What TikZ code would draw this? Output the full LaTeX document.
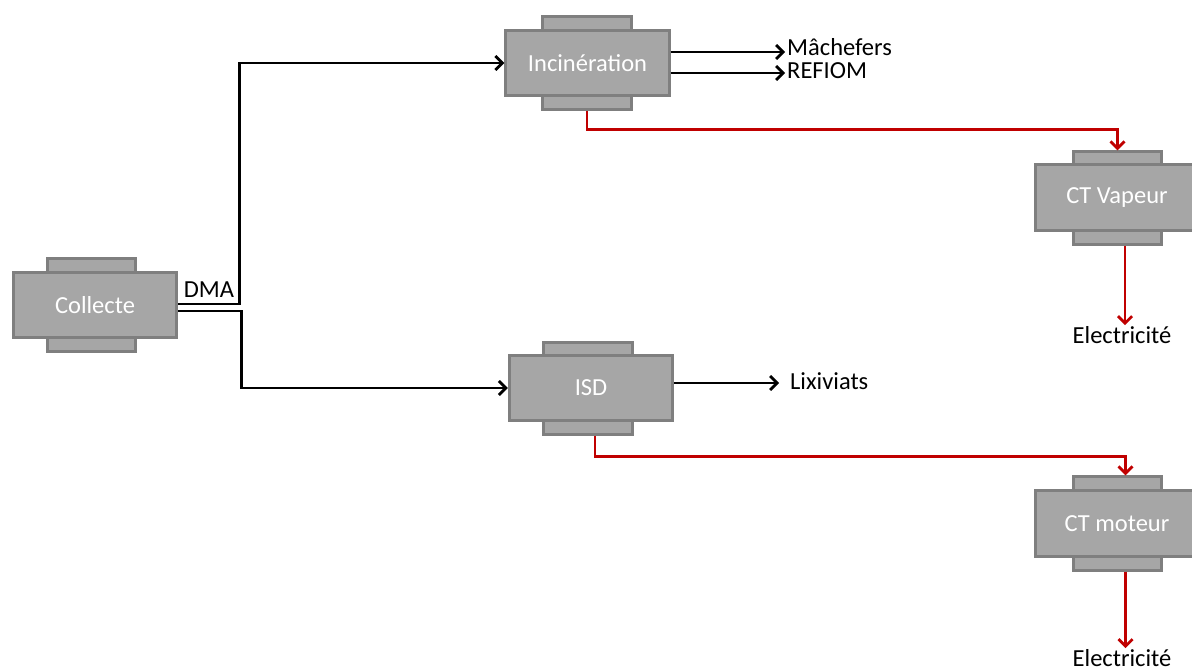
\documentclass[tikz,border=0pt]{standalone}
\usepackage{fontspec}
\setmainfont{Carlito}
\usetikzlibrary{arrows.meta}
\definecolor{boxfill}{HTML}{A6A6A6}
\definecolor{boxdraw}{HTML}{7F7F7F}
\definecolor{flowred}{HTML}{C00000}
\begin{document}
\begin{tikzpicture}[x=1pt,y=-1pt,
  mainbox/.style={draw=boxdraw, fill=boxfill, line width=2.8pt, minimum width=163.5pt, minimum height=65.5pt, inner sep=0pt, text=white, font=\fontsize{24.5}{27}\selectfont},
  tabbox/.style={draw=boxdraw, fill=boxfill, line width=2.8pt, minimum width=88.5pt, minimum height=30pt, inner sep=0pt},
  lbl/.style={inner sep=1pt, text=black, font=\fontsize{24.5}{27}\selectfont},
  flow/.style={line width=2.8pt, draw=black, -{Straight Barb[length=7pt,width=14pt]}},
  redflow/.style={line width=2.8pt, draw=flowred, -{Straight Barb[length=7pt,width=14pt]}}
]
\useasboundingbox (0,0) rectangle (1192,669);
\fill[white] (0,0) rectangle (1192,669);

% Collecte
\node[tabbox, anchor=north] (colT) at (91.5,257.4) {};
\node[tabbox, anchor=south] (colB) at (91.5,352.6) {};
\node[mainbox] (col) at (95,305) {Collecte};

% Incineration
\node[tabbox, anchor=north] (incT) at (587,15.4) {};
\node[tabbox, anchor=south] (incB) at (587,110.6) {};
\node[mainbox] (inc) at (587.5,63) {Incinération};

% ISD
\node[tabbox, anchor=north] (isdT) at (588,341.4) {};
\node[tabbox, anchor=south] (isdB) at (588,435.6) {};
\node[mainbox] (isd) at (591,388) {ISD};

% CT Vapeur
\node[tabbox, anchor=north] (ctvT) at (1117.5,150.4) {};
\node[tabbox, anchor=south] (ctvB) at (1117.5,245.6) {};
\node[mainbox] (ctv) at (1117,197.5) {CT Vapeur};

% CT moteur
\node[tabbox, anchor=north] (ctmT) at (1117.5,475.4) {};
\node[tabbox, anchor=south] (ctmB) at (1117.5,571.6) {};
\node[mainbox] (ctm) at (1117,523.5) {CT moteur};

% Labels
\node[lbl] (dma) at (209,290) {DMA};
\node[lbl, anchor=west] (mach) at (786,47) {Mâchefers};
\node[lbl, anchor=west] (refiom) at (786,71) {REFIOM};
\node[lbl, anchor=west] (lix) at (789,381) {Lixiviats};
\node[lbl] (elec1) at (1122,335) {Electricité};
\node[lbl] (elec2) at (1122,658) {Electricité};

% arrow end points beside the labels
\coordinate (machIn) at (785,52);
\coordinate (refIn) at (785,73);
\coordinate (lixIn) at (779,383);

% Black flows
\draw[flow] ([yshift=1pt]col.east) -- ++(61,0) |- (inc.west);
\draw[flow] ([yshift=-6pt]col.east) -- ++(63,0) |- (isd.west);
\draw[flow] (inc.east |- machIn) -- (machIn);
\draw[flow] (inc.east |- refIn) -- (refIn);
\draw[flow] (isd.east |- lixIn) -- (lixIn);

% Red flows
\draw[redflow] (incB.south) -- ++(0,19) -| (ctvT.north);
\draw[redflow] ([xshift=7pt]isdB.south) -- ++(0,21) -| ([xshift=8pt]ctmT.north);
\draw[redflow] ([xshift=7.5pt]ctvB.south) -- ([xshift=7.5pt]ctvB.south |- elec1.north);
\draw[redflow] ([xshift=8pt]ctmB.south) -- ([xshift=8pt]ctmB.south |- elec2.north);
\end{tikzpicture}
\end{document}
